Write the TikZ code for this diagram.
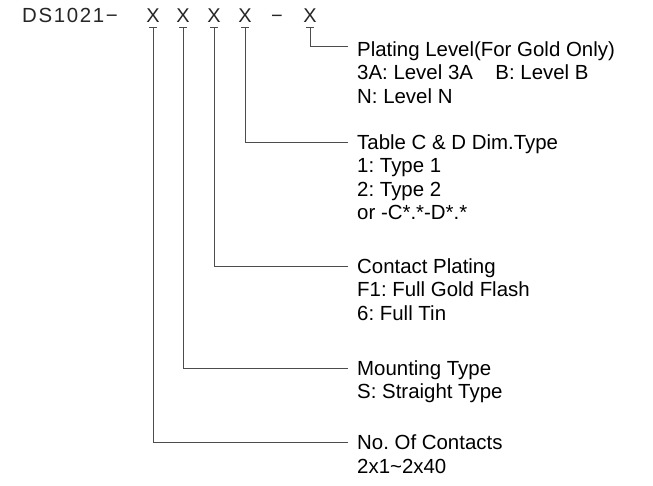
\documentclass[tikz,border=0pt]{standalone}
\usepackage{fontspec}
\setmainfont{Liberation Sans}
\frenchspacing
\begin{document}
\begin{tikzpicture}[x=1bp,y=-1bp,
  lab/.style={anchor=base west,inner sep=0pt,font=\fontsize{20.5}{24}\selectfont\frenchspacing,text=black},
  code/.style={anchor=base,inner sep=0pt,font=\fontsize{20}{22}\selectfont,text=black!85},
  conn/.style={draw=black!70,line width=0.8bp}]
\useasboundingbox (0,0) rectangle (653,486);
% header
\node[anchor=base west,inner sep=0pt,font=\fontsize{20.5}{22}\selectfont\addfontfeature{LetterSpace=8},text=black!85] (pre) at (22,23) {DS1021−};
\node[code] (x1) at (153,23) {X};
\node[code] (x2) at (183,23) {X};
\node[code] (x3) at (214,23) {X};
\node[code] (x4) at (245,23) {X};
\node[code] (dash) at (277,23) {−};
\node[code] (x5) at (310,23) {X};
% labels
\node[lab] (l5a) at (357,56.5) {Plating Level(For Gold Only)};
\node[lab] (l5b) at (357,80) {3A: Level 3A\hspace{1.1em}B: Level B};
\node[lab] (l5c) at (357,103.5) {N: Level N};
\node[lab] (l4a) at (357,149.5) {Table C \& D Dim.Type};
\node[lab] (l4b) at (357,173) {1: Type 1};
\node[lab] (l4c) at (357,196.5) {2: Type 2};
\node[lab] (l4d) at (357,220) {or -C*.*-D*.*};
\node[lab] (l3a) at (357,273) {Contact Plating};
\node[lab] (l3b) at (357,296.5) {F1: Full Gold Flash};
\node[lab] (l3c) at (357,320) {6: Full Tin};
\node[lab] (l2a) at (357,375) {Mounting Type};
\node[lab] (l2b) at (357,398.5) {S: Straight Type};
\node[lab] (l1a) at (357,449.5) {No. Of Contacts};
\node[lab] (l1b) at (357,473) {2x1\textasciitilde 2x40};
% ticks and connectors
\foreach \i in {1,...,5}{
  \coordinate (t\i) at ([yshift=-4.5bp]x\i.south);
  \draw[conn] ([xshift=-4bp]t\i) -- ([xshift=4bp]t\i);
}
\draw[conn] (t5) |- ([xshift=-9bp,yshift=10bp]l5a.base west);
\draw[conn] (t4) |- ([xshift=-9bp,yshift=7bp]l4a.base west);
\draw[conn] (t3) |- ([xshift=-9bp,yshift=7bp]l3a.base west);
\draw[conn] (t2) |- ([xshift=-9bp,yshift=7bp]l2a.base west);
\draw[conn] (t1) |- ([xshift=-9bp,yshift=7bp]l1a.base west);
\end{tikzpicture}
\end{document}
